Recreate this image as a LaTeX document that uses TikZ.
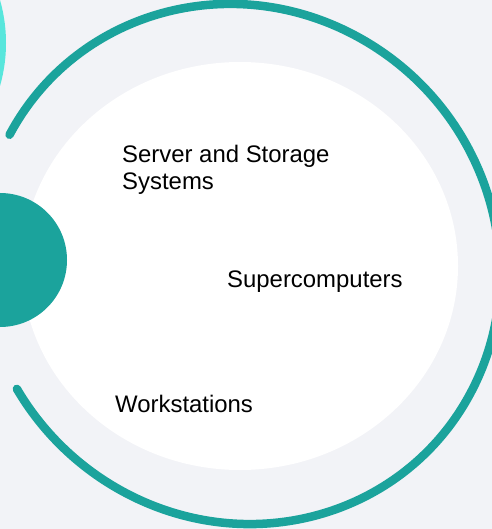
\documentclass[tikz,border=0pt]{standalone}
\usepackage{fontspec}
\setmainfont{Liberation Sans}
\usetikzlibrary{shapes.geometric}
\definecolor{bgcol}{RGB}{242,243,247}
\definecolor{tealcol}{RGB}{27,163,156}
\definecolor{cyancol}{RGB}{88,230,220}
\tikzset{
    label text/.style={anchor=base west, inner sep=0pt, align=left,
        font=\fontsize{24}{28}\selectfont, text=black}
}
\begin{document}
\begin{tikzpicture}[x=1bp,y=-1bp]
        \useasboundingbox (0,0) rectangle (492,529);
        \clip (0,0) rectangle (492,529);
        \fill[bgcol] (0,0) rectangle (492,529);
        % outer rings
        \draw[cyancol, line width=6bp] (-150,43) circle (153);
        \begin{scope}[shift={(240,264)}, x={(0.7071bp,-0.7071bp)}, y={(-0.7071bp,-0.7071bp)}]
        \draw[tealcol, line width=8.5bp, line cap=round]
                (163.7:265 and 255)
                arc[start angle=163.7, end angle=465.2, x radius=265, y radius=255];
        \end{scope}
        % inner disc and marker
        \node (disc) [ellipse, fill=white, minimum width=436bp, minimum height=408bp,
                inner sep=0pt] at (240,266) {};
        \fill[tealcol] (0,260) circle (67);
        \node (storage) [label text] at (122,190) {Server and Storage\\Systems};
        \node (super) [label text] at (227,287) {Supercomputers};
        \node (work) [label text] at (115,412) {Workstations};
\end{tikzpicture}
\end{document}
